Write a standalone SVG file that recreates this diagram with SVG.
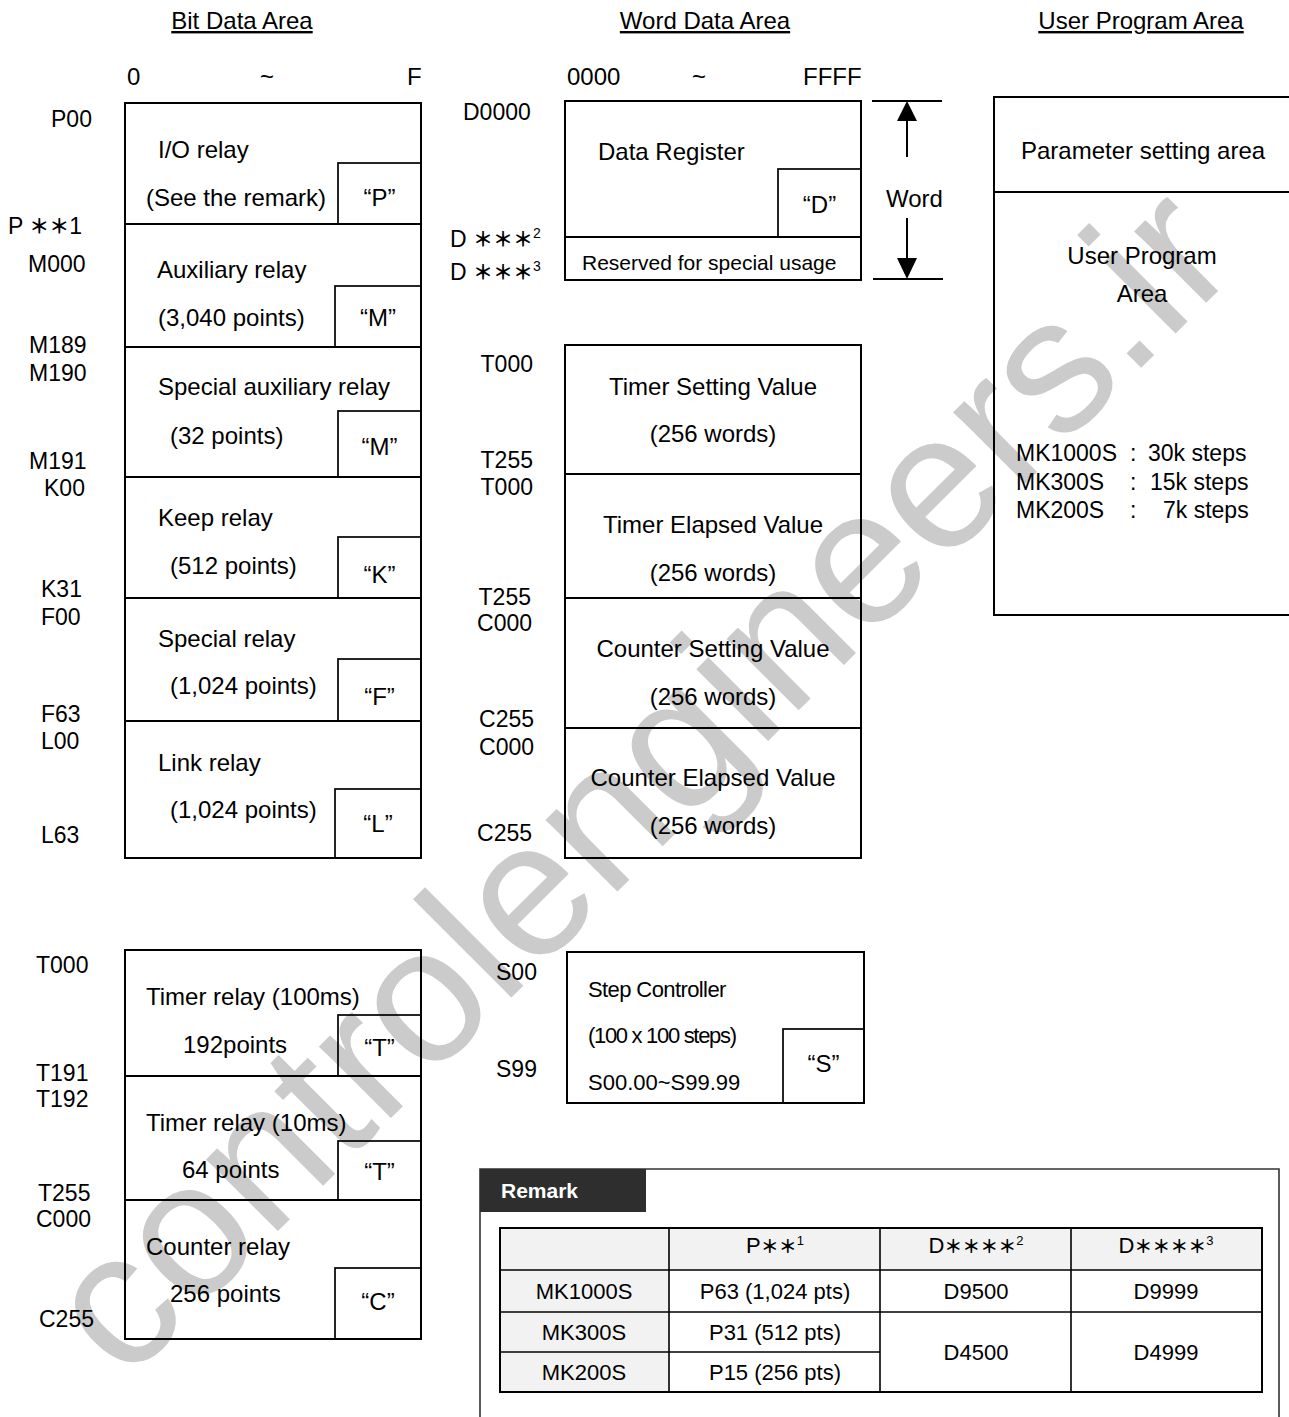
<svg xmlns="http://www.w3.org/2000/svg" width="1289" height="1417" viewBox="0 0 1289 1417">
<style>
text{font-family:"Liberation Sans",Arial,"Noto Sans CJK JP",sans-serif;fill:#000}
.t{font-size:24px}
.l{font-size:23px}
.c{text-anchor:middle}
.e{text-anchor:end}
.ast{font-family:"Noto Sans CJK JP","Noto Sans CJK SC",sans-serif;font-weight:bold}
.box{fill:none;stroke:#000;stroke-width:2}
.tag{fill:none;stroke:#000;stroke-width:1.7}
.ln{stroke:#000;stroke-width:2;fill:none}
.h{font-size:24px;text-anchor:middle;text-decoration:underline}
.tb{font-size:22px;text-anchor:middle}
.tl{stroke:#000;stroke-width:1.6;fill:none}
.wm{font-size:192px;fill:#cbcbcb}
</style>
<rect x="0" y="0" width="1289" height="1417" fill="#fff"/>
<text class="wm" x="125" y="1384" transform="rotate(-45 125 1384)">controlengineers.ir</text>

<g id="headers">
<text class="h" x="242" y="29">Bit Data Area</text>
<text class="h" x="705" y="29">Word Data Area</text>
<text class="h" x="1141" y="29">User Program Area</text>
<text class="t" x="127" y="85">0</text>
<text class="t c" x="267" y="85">~</text>
<text class="t" x="407" y="85">F</text>
<text class="t" x="567" y="85">0000</text>
<text class="t c" x="699" y="85">~</text>
<text class="t" x="803" y="85">FFFF</text>
</g>

<g id="bit-labels">
<text class="l" x="51" y="127">P00</text>
<text class="l" x="8" y="234">P <tspan class="ast" font-size="20">＊＊</tspan>1</text>
<text class="l" x="28" y="272">M000</text>
<text class="l" x="29" y="353">M189</text>
<text class="l" x="29" y="381">M190</text>
<text class="l" x="29" y="469">M191</text>
<text class="l" x="44" y="496">K00</text>
<text class="l" x="41" y="597">K31</text>
<text class="l" x="41" y="625">F00</text>
<text class="l" x="41" y="722">F63</text>
<text class="l" x="41" y="749">L00</text>
<text class="l" x="41" y="843">L63</text>
</g>

<g id="io-relay">
<rect class="box" x="125" y="103" width="296" height="121"/>
<rect class="tag" x="338" y="163" width="83" height="61"/>
<text class="t" x="158" y="158">I/O relay</text>
<text class="t" x="146" y="206">(See the remark)</text>
<text class="t c" x="379.5" y="206">“P”</text>
</g>
<g id="aux-relay">
<rect class="box" x="125" y="224" width="296" height="123"/>
<rect class="tag" x="335" y="286" width="86" height="61"/>
<text class="t" x="157" y="278">Auxiliary relay</text>
<text class="t" x="158" y="326">(3,040 points)</text>
<text class="t c" x="378" y="326">“M”</text>
</g>
<g id="special-aux-relay">
<rect class="box" x="125" y="347" width="296" height="130"/>
<rect class="tag" x="338" y="411" width="83" height="66"/>
<text class="t" x="158" y="395">Special auxiliary relay</text>
<text class="t" x="170" y="444">(32 points)</text>
<text class="t c" x="379.5" y="455">“M”</text>
</g>
<g id="keep-relay">
<rect class="box" x="125" y="477" width="296" height="121"/>
<rect class="tag" x="338" y="537" width="83" height="61"/>
<text class="t" x="158" y="526">Keep relay</text>
<text class="t" x="170" y="574">(512 points)</text>
<text class="t c" x="379.5" y="583">“K”</text>
</g>
<g id="special-relay">
<rect class="box" x="125" y="598" width="296" height="123"/>
<rect class="tag" x="338" y="659" width="83" height="62"/>
<text class="t" x="158" y="647">Special relay</text>
<text class="t" x="170" y="694">(1,024 points)</text>
<text class="t c" x="379.5" y="705">“F”</text>
</g>
<g id="link-relay">
<rect class="box" x="125" y="721" width="296" height="137"/>
<rect class="tag" x="335" y="789" width="86" height="69"/>
<text class="t" x="158" y="771">Link relay</text>
<text class="t" x="170" y="818">(1,024 points)</text>
<text class="t c" x="378" y="832">“L”</text>
</g>

<g id="word-labels">
<text class="l" x="463" y="120">D0000</text>
<text class="l" x="450" y="247">D <tspan class="ast" font-size="20">＊＊＊</tspan><tspan font-size="14" dy="-9">2</tspan></text>
<text class="l" x="450" y="280">D <tspan class="ast" font-size="20">＊＊＊</tspan><tspan font-size="14" dy="-9">3</tspan></text>
<text class="l e" x="533" y="372">T000</text>
<text class="l e" x="533" y="468">T255</text>
<text class="l e" x="533" y="495">T000</text>
<text class="l e" x="531" y="605">T255</text>
<text class="l e" x="532" y="631">C000</text>
<text class="l e" x="534" y="727">C255</text>
<text class="l e" x="534" y="755">C000</text>
<text class="l e" x="532" y="841">C255</text>
</g>

<g id="data-register">
<rect class="box" x="565" y="101" width="296" height="136"/>
<rect class="tag" x="778" y="169" width="83" height="68"/>
<text class="t" x="598" y="160">Data Register</text>
<text class="t c" x="819.5" y="213">“D”</text>
</g>
<g id="reserved">
<rect class="box" x="565" y="237" width="296" height="43"/>
<text x="582" y="270" font-size="21">Reserved for special usage</text>
</g>

<g id="word-arrow">
<line class="ln" x1="872" y1="101" x2="942" y2="101"/>
<line class="ln" x1="873" y1="279" x2="943" y2="279"/>
<line class="ln" x1="907" y1="120" x2="907" y2="157"/>
<line class="ln" x1="907" y1="218" x2="907" y2="259"/>
<polygon points="907,101 897,121 917,121" fill="#000"/>
<polygon points="907,279 897,258 917,258" fill="#000"/>
<text class="t" x="886" y="207">Word</text>
</g>

<g id="timer-setting">
<rect class="box" x="565" y="345" width="296" height="129"/>
<text class="t c" x="713" y="395">Timer Setting Value</text>
<text class="t c" x="713" y="442">(256 words)</text>
</g>
<g id="timer-elapsed">
<rect class="box" x="565" y="474" width="296" height="124"/>
<text class="t c" x="713" y="533">Timer Elapsed Value</text>
<text class="t c" x="713" y="581">(256 words)</text>
</g>
<g id="counter-setting">
<rect class="box" x="565" y="598" width="296" height="130"/>
<text class="t c" x="713" y="657">Counter Setting Value</text>
<text class="t c" x="713" y="705">(256 words)</text>
</g>
<g id="counter-elapsed">
<rect class="box" x="565" y="728" width="296" height="130"/>
<text class="t c" x="713" y="786">Counter Elapsed Value</text>
<text class="t c" x="713" y="834">(256 words)</text>
</g>

<g id="user-program">
<rect class="box" x="994" y="97" width="310" height="518"/>
<line class="ln" x1="994" y1="192" x2="1289" y2="192"/>
<text class="t" x="1021" y="159">Parameter setting area</text>
<text class="t c" x="1142" y="264">User Program</text>
<text class="t c" x="1142" y="302">Area</text>
<text x="1016" y="461" font-size="23">MK1000S</text>
<text x="1016" y="490" font-size="23">MK300S</text>
<text x="1016" y="518" font-size="23">MK200S</text>
<text x="1130" y="461" font-size="23">:</text>
<text x="1130" y="490" font-size="23">:</text>
<text x="1130" y="518" font-size="23">:</text>
<text x="1148" y="461" font-size="23">30k steps</text>
<text x="1150" y="490" font-size="23">15k steps</text>
<text x="1163" y="518" font-size="23">7k steps</text>
</g>

<g id="tc-labels">
<text class="l" x="36" y="973">T000</text>
<text class="l" x="36" y="1081">T191</text>
<text class="l" x="36" y="1107">T192</text>
<text class="l" x="38" y="1201">T255</text>
<text class="l" x="36" y="1227">C000</text>
<text class="l" x="39" y="1327">C255</text>
</g>
<g id="timer-100ms">
<rect class="box" x="125" y="950" width="296" height="126"/>
<rect class="tag" x="338" y="1015" width="83" height="61"/>
<text class="t" x="146" y="1005">Timer relay (100ms)</text>
<text class="t" x="183" y="1053">192points</text>
<text class="t c" x="379.5" y="1056">“T”</text>
</g>
<g id="timer-10ms">
<rect class="box" x="125" y="1076" width="296" height="124"/>
<rect class="tag" x="338" y="1141" width="83" height="59"/>
<text class="t" x="146" y="1131">Timer relay (10ms)</text>
<text class="t" x="182" y="1178">64 points</text>
<text class="t c" x="379.5" y="1180">“T”</text>
</g>
<g id="counter-relay">
<rect class="box" x="125" y="1200" width="296" height="139"/>
<rect class="tag" x="335" y="1268" width="86" height="71"/>
<text class="t" x="146" y="1255">Counter relay</text>
<text class="t" x="170" y="1302">256 points</text>
<text class="t c" x="378" y="1310">“C”</text>
</g>

<g id="step-controller">
<text class="l" x="496" y="980">S00</text>
<text class="l" x="496" y="1077">S99</text>
<rect class="box" x="567" y="952" width="297" height="151"/>
<rect class="tag" x="783" y="1029" width="81" height="74"/>
<text x="588" y="997" font-size="22" letter-spacing="-0.6">Step Controller</text>
<text x="588" y="1043" font-size="22" textLength="149" lengthAdjust="spacing">(100 x 100 steps)</text>
<text x="588" y="1090" font-size="22">S00.00~S99.99</text>
<text class="t c" x="823.5" y="1072">“S”</text>
</g>

<g id="remark">
<path d="M480,1417 V1169 H1279 V1417" fill="none" stroke="#333" stroke-width="1.6"/>
<rect x="480" y="1169" width="166" height="43" fill="#2e2e2e"/>
<text x="501" y="1198" font-size="21" font-weight="bold" style="fill:#fff">Remark</text>
<rect x="500" y="1228" width="762" height="42" fill="#f2f2f2"/>
<rect x="500" y="1270" width="169" height="122" fill="#f2f2f2"/>
<rect x="500" y="1228" width="762" height="164" fill="none" stroke="#000" stroke-width="2"/>
<line class="tl" x1="669" y1="1228" x2="669" y2="1392"/>
<line class="tl" x1="880" y1="1228" x2="880" y2="1392"/>
<line class="tl" x1="1071" y1="1228" x2="1071" y2="1392"/>
<line class="tl" x1="500" y1="1270" x2="1262" y2="1270"/>
<line class="tl" x1="500" y1="1312" x2="1262" y2="1312"/>
<line class="tl" x1="500" y1="1352" x2="880" y2="1352"/>
<text class="tb" x="775" y="1253">P<tspan class="ast" font-size="18">＊＊</tspan><tspan font-size="13" dy="-8">1</tspan></text>
<text class="tb" x="976" y="1253">D<tspan class="ast" font-size="18">＊＊＊＊</tspan><tspan font-size="13" dy="-8">2</tspan></text>
<text class="tb" x="1166" y="1253">D<tspan class="ast" font-size="18">＊＊＊＊</tspan><tspan font-size="13" dy="-8">3</tspan></text>
<text class="tb" x="584" y="1299">MK1000S</text>
<text class="tb" x="775" y="1299">P63 (1,024 pts)</text>
<text class="tb" x="976" y="1299">D9500</text>
<text class="tb" x="1166" y="1299">D9999</text>
<text class="tb" x="584" y="1340">MK300S</text>
<text class="tb" x="775" y="1340">P31 (512 pts)</text>
<text class="tb" x="584" y="1380">MK200S</text>
<text class="tb" x="775" y="1380">P15 (256 pts)</text>
<text class="tb" x="976" y="1360">D4500</text>
<text class="tb" x="1166" y="1360">D4999</text>
</g>
</svg>
